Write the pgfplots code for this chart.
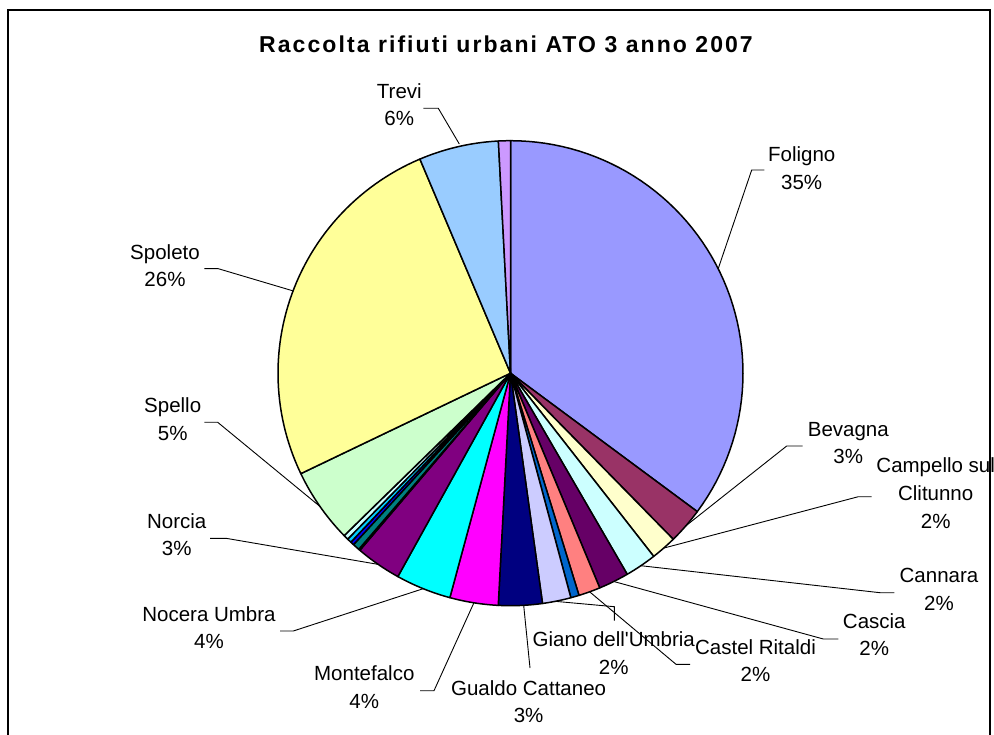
\documentclass[border=0pt]{standalone}
\usepackage{pgfplots}
\usepackage{pgfplotstable}
\pgfplotsset{compat=1.18}
\usepackage{fontspec}
\setmainfont{Liberation Sans}
\newfontfamily\titlefont[LetterSpace=9]{Liberation Sans}

\definecolor{fol}{HTML}{9999FF}
\definecolor{bev}{HTML}{993366}
\definecolor{cam}{HTML}{FFFFCC}
\definecolor{can}{HTML}{CCFFFF}
\definecolor{cas}{HTML}{660066}
\definecolor{cri}{HTML}{FF8080}
\definecolor{cer}{HTML}{0066CC}
\definecolor{gia}{HTML}{CCCCFF}
\definecolor{gua}{HTML}{000080}
\definecolor{mfa}{HTML}{FF00FF}
\definecolor{noc}{HTML}{00FFFF}
\definecolor{nor}{HTML}{800080}
\definecolor{pog}{HTML}{800000}
\definecolor{pre}{HTML}{008080}
\definecolor{san}{HTML}{0000FF}
\definecolor{sch}{HTML}{00CCFF}
\definecolor{sel}{HTML}{CCFFFF}
\definecolor{spe}{HTML}{CCFFCC}
\definecolor{spo}{HTML}{FFFF99}
\definecolor{tre}{HTML}{99CCFF}
\definecolor{val}{HTML}{CC99FF}

% share of each municipality (percent), clockwise from 12 o'clock
\pgfplotstableread[col sep=comma]{
name,value,col
Foligno,35.15,fol
Bevagna,2.51,bev
Campello sul Clitunno,1.78,cam
Cannara,2.19,can
Cascia,2.10,cas
Castel Ritaldi,1.51,cri
Cerreto di Spoleto,0.58,cer
Giano dell'Umbria,1.98,gia
Gualdo Cattaneo,3.04,gua
Montefalco,3.36,mfa
Nocera Umbra,3.85,noc
Norcia,3.17,nor
Poggiodomo,0.10,pog
Preci,0.48,pre
Sant'Anatolia di Narco,0.25,san
Scheggino,0.30,sch
Sellano,0.34,sel
Spello,5.20,spe
Spoleto,25.74,spo
Trevi,5.54,tre
Valtopina,0.83,val
}\piedata

\newcommand{\labtwo}[4]{%
  \node[anchor=base,inner sep=0pt,font=\fontsize{20.5}{24}\selectfont] at (axis cs:#1,#2) {#3};%
  \node[anchor=base,inner sep=0pt,font=\fontsize{20.5}{24}\selectfont] at (axis cs:#1,#2+27.5) {#4};%
}

\begin{document}
\begin{tikzpicture}
\begin{axis}[
  hide axis, scale only axis, width=994pt, height=735pt,
  xmin=0, xmax=994, ymin=0, ymax=735, y dir=reverse,
  clip=false,
]
\coordinate (TL) at (axis cs:0,0);
\coordinate (BR) at (axis cs:994,735);

% frame
\draw[line width=1.6pt, black] (axis cs:8,745) -- (axis cs:8,10) -- (axis cs:990,10) -- (axis cs:990,745);

% title
\node[anchor=base,inner sep=0pt,font=\fontsize{23}{27}\selectfont\titlefont\bfseries] at (axis cs:506,52.3) {Raccolta rifiuti urbani ATO 3 anno 2007};

% pie slices
\pgfplotstablegetrowsof{\piedata}
\pgfmathtruncatemacro{\nrows}{\pgfplotsretval-1}
\def\cum{0}
\pgfplotsforeachungrouped \i in {0,...,\nrows} {
  \pgfplotstablegetelem{\i}{value}\of\piedata
  \let\sliceval=\pgfplotsretval
  \pgfplotstablegetelem{\i}{col}\of\piedata
  \let\slicecol=\pgfplotsretval
  \pgfmathsetmacro{\angA}{-90+3.6*\cum}
  \pgfmathsetmacro{\angB}{-90+3.6*(\cum+\sliceval)}
  \edef\doslice{\noexpand\addplot[fill=\slicecol, draw=black, line width=1.5pt, line join=round, domain=\angA:\angB, samples=60] ({510.5+232.5*cos(x)},{373.2+232.5*sin(x)}) -- (axis cs:510.5,373.2) -- cycle;}
  \doslice
  \pgfmathsetmacro{\cum}{\cum+\sliceval}
  \global\let\cum=\cum
}

% leader lines
\begin{scope}[line width=0.9pt, black]
\draw (axis cs:423.3,108.3) -- (axis cs:438.3,108.3) -- (axis cs:459.3,144);
\draw (axis cs:764.3,170) -- (axis cs:751.7,170) -- (axis cs:718.2,268.7);
\draw (axis cs:204.3,268.7) -- (axis cs:218.3,268.7) -- (axis cs:293.1,290.9);
\draw (axis cs:204.3,422.3) -- (axis cs:217.7,422.3) -- (axis cs:320,506.5);
\draw (axis cs:210,538.3) -- (axis cs:226,538.3) -- (axis cs:378.3,564.4);
\draw (axis cs:280,631) -- (axis cs:293.3,631) -- (axis cs:423.2,588.7);
\draw (axis cs:420,690.7) -- (axis cs:434,690.7) -- (axis cs:473.9,602.8);
\draw (axis cs:523.7,605.5) -- (axis cs:530,668);
\draw (axis cs:557,601.5) -- (axis cs:614.3,606.7) -- (axis cs:614.3,620.7);
\draw (axis cs:589.6,591.8) -- (axis cs:676,664.3) -- (axis cs:690,664.3);
\draw (axis cs:613.8,581.5) -- (axis cs:823.3,639) -- (axis cs:838.3,639);
\draw (axis cs:640.8,565.7) -- (axis cs:880,592.7) -- (axis cs:894.3,592.7);
\draw (axis cs:663.7,548.1) -- (axis cs:858.3,496.7) -- (axis cs:871.7,496.7);
\draw (axis cs:685.8,525.9) -- (axis cs:786.7,446) -- (axis cs:802.7,446);
\end{scope}

% labels
\labtwo{399.3}{98.3}{Trevi}{6\%}
\labtwo{801.7}{161.7}{Foligno}{35\%}
\labtwo{165}{259.3}{Spoleto}{26\%}
\labtwo{172.7}{412.7}{Spello}{5\%}
\labtwo{176.7}{528.3}{Norcia}{3\%}
\labtwo{209}{621}{Nocera Umbra}{4\%}
\labtwo{364.3}{680.7}{Montefalco}{4\%}
\labtwo{528.6}{695}{Gualdo Cattaneo}{3\%}
\labtwo{613.8}{646.7}{Giano dell\textquotesingle Umbria}{2\%}
\labtwo{755.5}{654}{Castel Ritaldi}{2\%}
\labtwo{874.3}{628.3}{Cascia}{2\%}
\labtwo{939}{582.7}{Cannara}{2\%}
\labtwo{848.3}{436}{Bevagna}{3\%}
\node[anchor=base,inner sep=0pt,font=\fontsize{20.5}{24}\selectfont] at (axis cs:935.7,472.7) {Campello sul};
\labtwo{935.7}{500.7}{Clitunno}{2\%}
\end{axis}
\pgfresetboundingbox
\useasboundingbox (TL) rectangle (BR);
\end{tikzpicture}
\end{document}
